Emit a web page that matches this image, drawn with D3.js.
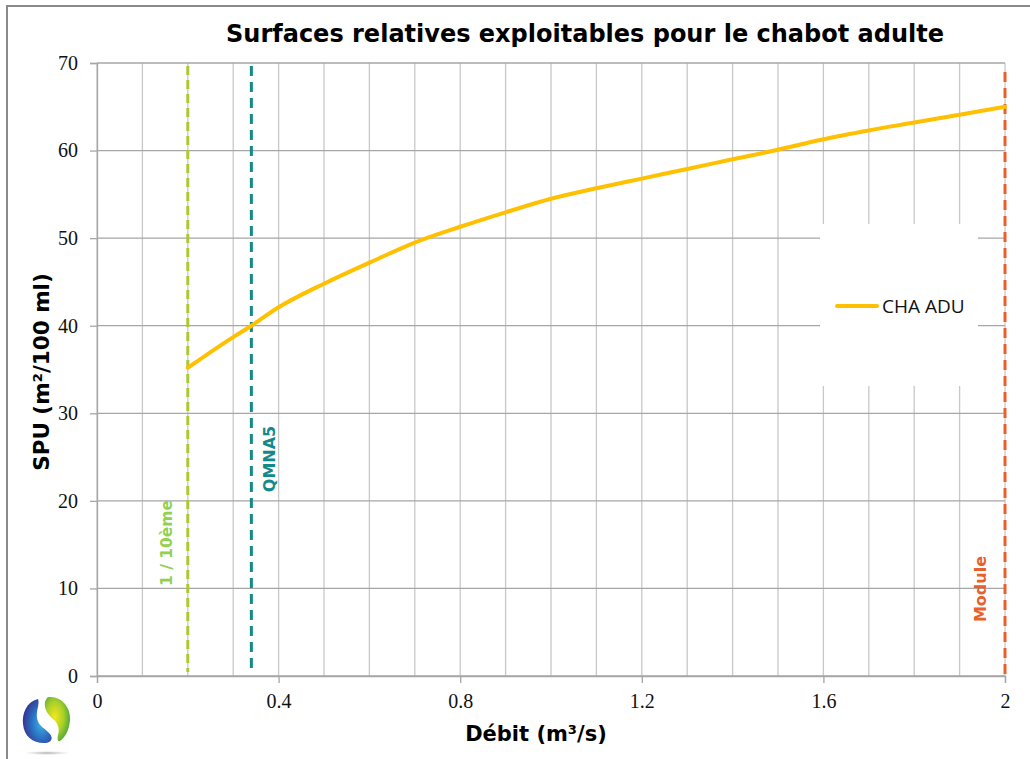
<!DOCTYPE html>
<html>
<head>
<meta charset="utf-8">
<script src="https://cdn.jsdelivr.net/npm/d3@7"></script>
<style>
  html, body { margin: 0; padding: 0; background: #fff; }
  svg { display: block; }
</style>
</head>
<body>
<svg id="chart" width="1030" height="759"></svg>
<script>
// Débit (m³/s) and SPU values for adult chabot
const debit = [0.2, 0.3, 0.34, 0.4, 0.5, 0.6, 0.7, 0.8, 0.9, 1.0, 1.1, 1.2, 1.3, 1.4, 1.5, 1.6, 1.7, 1.8, 1.9, 2.0];
const spu   = [35.2, 38.7, 40.0, 42.1, 44.8, 47.2, 49.5, 51.3, 52.95, 54.5, 55.7, 56.8, 57.9, 59.0, 60.1, 61.3, 62.3, 63.2, 64.1, 65.0];

const xTicks = [0, 0.4, 0.8, 1.2, 1.6, 2];
const yTicks = [0, 10, 20, 30, 40, 50, 60, 70];
const xGrid = d3.range(0, 21).map(i => i / 10);

// Reference discharges drawn as dashed verticals
const refNames  = ["1 / 10ème", "QMNA5", "Module"];
const refValues = [0.2, 0.34, 2.0];
const refColors = ["#a9c934", "#138a8a", "#e8602c"];
const refLabelColors = ["#92d050", "#138a8a", "#e8602c"];
const refLabelY = [543, 459, 589];
const refLabelOffset = [-21, 18, -25];

const seriesName = "CHA ADU";

const svg = d3.select("#chart");
const W = 1030, H = 759;
const m = { left: 97, right: 1005, top: 63, bottom: 676 };

const x = d3.scaleLinear().domain([0, 2]).range([m.left, m.right]);
const y = d3.scaleLinear().domain([0, 70]).range([m.bottom, m.top]);

// Outer frame
svg.append("path")
  .attr("d", `M7,${H} L7,6 L${W},6`)
  .attr("fill", "none").attr("stroke", "#8a8a8a").attr("stroke-width", 2);

// Vertical gridlines
svg.append("g").selectAll("line").data(xGrid).join("line")
  .attr("x1", d => x(d)).attr("x2", d => x(d))
  .attr("y1", m.top).attr("y2", m.bottom)
  .attr("stroke", "#c8c8c8").attr("stroke-width", 1.3);

// Horizontal gridlines
svg.append("g").selectAll("line").data(yTicks).join("line")
  .attr("x1", m.left).attr("x2", m.right)
  .attr("y1", d => y(d)).attr("y2", d => y(d))
  .attr("stroke", "#a6a6a6").attr("stroke-width", 1.3);

// Axes
const xAxis = svg.append("g").attr("transform", `translate(0,${m.bottom})`)
  .call(d3.axisBottom(x).tickValues(xTicks).tickSize(7).tickPadding(8).tickFormat(d => d3.format("")(d)));
const yAxis = svg.append("g").attr("transform", `translate(${m.left},0)`)
  .call(d3.axisLeft(y).tickValues(yTicks).tickSize(7).tickPadding(12));

[xAxis, yAxis].forEach(a => {
  a.select(".domain").attr("stroke", "#a6a6a6").attr("stroke-width", 1.3);
  a.selectAll(".tick line").attr("stroke", "#a6a6a6").attr("stroke-width", 1.3);
  a.selectAll(".tick text")
    .attr("fill", "#111")
    .style("font-family", "'Liberation Serif', 'DejaVu Serif', serif")
    .style("font-size", "20px");
});
xAxis.selectAll(".tick text").attr("dy", "0.85em");

// Reference lines
refValues.forEach((v, i) => {
  svg.append("line")
    .attr("x1", x(v)).attr("x2", x(v))
    .attr("y1", i === 2 ? 72 : 66).attr("y2", i === 2 ? 676 : 672)
    .attr("stroke", refColors[i]).attr("stroke-width", 3)
    .attr("stroke-dasharray", i === 0 ? "9,5" : "10,6");
});

// Reference labels
refValues.forEach((v, i) => {
  svg.append("text")
    .attr("transform", `translate(${x(v) + refLabelOffset[i]},${refLabelY[i]}) rotate(-90)`)
    .attr("text-anchor", "middle")
    .attr("dy", "0.35em")
    .attr("fill", refLabelColors[i])
    .style("font-family", "'DejaVu Sans', sans-serif")
    .style("font-weight", "bold")
    .style("font-size", i === 0 ? "15.5px" : "16px")
    .text(refNames[i]);
});

// SPU curve
const line = d3.line().x((d, i) => x(debit[i])).y(d => y(d)).curve(d3.curveMonotoneX);
svg.append("path")
  .datum(spu)
  .attr("d", line)
  .attr("fill", "none")
  .attr("stroke", "#ffc000")
  .attr("stroke-width", 4)
  .attr("stroke-linecap", "round");

// Legend
const lg = svg.append("g");
lg.append("rect").attr("x", 820).attr("y", 224).attr("width", 158).attr("height", 162).attr("fill", "#fff");
lg.append("line").attr("x1", 837).attr("x2", 877).attr("y1", 306).attr("y2", 306)
  .attr("stroke", "#ffc000").attr("stroke-width", 4).attr("stroke-linecap", "round");
lg.append("text").attr("x", 882).attr("y", 306).attr("dy", "0.35em")
  .attr("fill", "#111")
  .style("font-family", "'Open Sans', 'DejaVu Sans', sans-serif")
  .style("font-size", "19px")
  .text(seriesName);

// Title
svg.append("text")
  .attr("x", 585).attr("y", 42)
  .attr("text-anchor", "middle")
  .attr("fill", "#000")
  .style("font-family", "'DejaVu Sans', sans-serif")
  .style("font-weight", "bold")
  .style("font-size", "24px")
  .text("Surfaces relatives exploitables pour le chabot adulte");

// Axis titles
svg.append("text")
  .attr("x", 536).attr("y", 741)
  .attr("text-anchor", "middle")
  .style("font-family", "'DejaVu Sans', sans-serif")
  .style("font-weight", "bold")
  .style("font-size", "21px")
  .text("Débit (m³/s)");

svg.append("text")
  .attr("transform", "translate(49,372) rotate(-90)")
  .attr("text-anchor", "middle")
  .style("font-family", "'DejaVu Sans', sans-serif")
  .style("font-weight", "bold")
  .style("font-size", "21.5px")
  .text("SPU (m²/100 ml)");

// Logo
const defs = svg.append("defs");
const gb = defs.append("radialGradient").attr("id", "gBlue").attr("cx", "0.65").attr("cy", "0.55").attr("r", "0.7");
gb.append("stop").attr("offset", "0").attr("stop-color", "#3fb3e8");
gb.append("stop").attr("offset", "0.5").attr("stop-color", "#2a6fc0");
gb.append("stop").attr("offset", "1").attr("stop-color", "#3a2a8a");
const gg = defs.append("radialGradient").attr("id", "gGreen").attr("cx", "0.4").attr("cy", "0.45").attr("r", "0.7");
gg.append("stop").attr("offset", "0").attr("stop-color", "#f4e81a");
gg.append("stop").attr("offset", "0.5").attr("stop-color", "#a8cf2a");
gg.append("stop").attr("offset", "1").attr("stop-color", "#2f9a3e");
const gs = defs.append("radialGradient").attr("id", "gShadow");
gs.append("stop").attr("offset", "0").attr("stop-color", "#999").attr("stop-opacity", 0.8);
gs.append("stop").attr("offset", "1").attr("stop-color", "#bbb").attr("stop-opacity", 0);

const logo = svg.append("g");
logo.append("ellipse").attr("cx", 47).attr("cy", 753).attr("rx", 23).attr("ry", 2).attr("fill", "url(#gShadow)");
logo.append("path")
  .attr("d", "M38,699 C26,702 22,714 23,724 C24,737 34,744 46,743 C52,742 53,738 50,734 C46,729 38,726 37,718 C36,710 40,704 38,699 Z")
  .attr("fill", "url(#gBlue)");
logo.append("path")
  .attr("d", "M49,697 C62,696 71,708 70,720 C69,732 64,738 60,741 C58,742 57,739 58,735 C60,729 58,723 53,719 C47,714 44,708 45,702 C46,699 47,697 49,697 Z")
  .attr("fill", "url(#gGreen)");
</script>
</body>
</html>
